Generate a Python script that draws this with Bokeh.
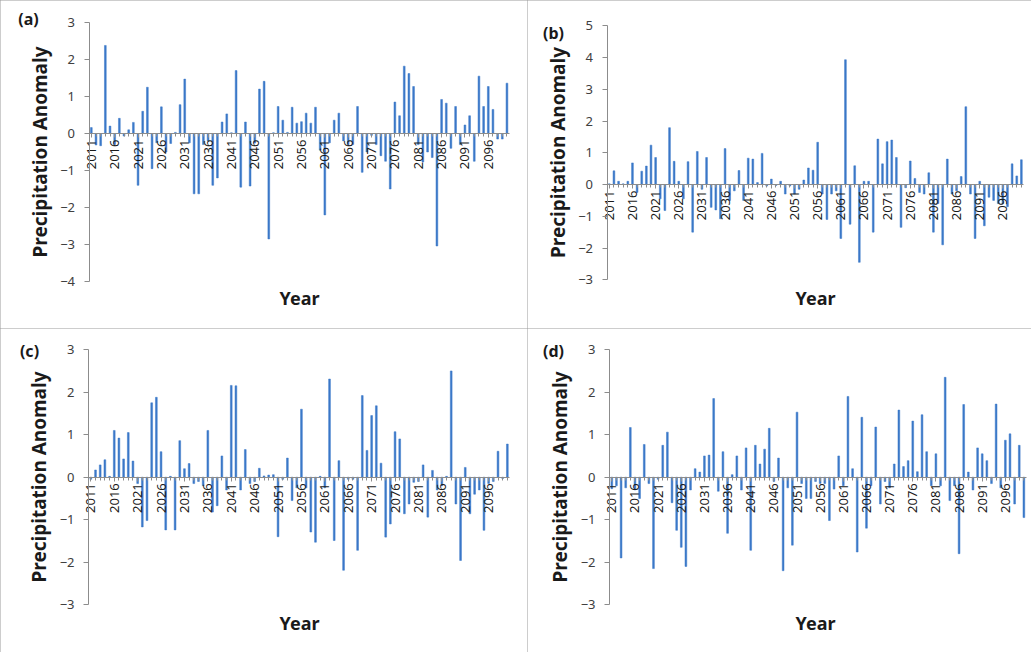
import math
from bokeh.plotting import figure
from bokeh.models import Range1d, FixedTicker, Label
from bokeh.layouts import row, column
from bokeh.embed import file_html
from bokeh.resources import INLINE

years = list(range(2011, 2101))
tick_years = list(range(2011, 2101, 5))

anom_a = [0.16, -0.31, -0.33, 2.38, 0.2, -0.3, 0.41, -0.07, 0.1, 0.3,
          -1.4, 0.6, 1.25, -0.95, -0.25, 0.72, -0.5, -0.27, 0.03, 0.78,
          1.47, -0.25, -1.63, -1.63, -0.3, -0.2, -1.4, -1.2, 0.31, 0.53,
          0.02, 1.7, -1.45, 0.31, -1.42, -0.26, 1.2, 1.41, -2.85, 0.02,
          0.73, 0.36, 0.03, 0.71, 0.28, 0.32, 0.55, 0.28, 0.71, -0.45,
          -2.2, -0.25, 0.36, 0.55, -0.2, -0.3, -0.3, 0.73, -1.05, -0.5,
          -0.05, -0.3, -0.6, -0.75, -1.5, 0.85, 0.48, 1.82, 1.62, 1.27,
          -0.3, -0.77, -0.5, -0.65, -3.04, 0.92, 0.82, -0.4, 0.73, -0.3,
          0.23, 0.48, -0.75, 1.55, 0.73, 1.27, 0.65, -0.15, -0.15, 1.36]

anom_b = [0.02, 0.43, 0.1, 0.02, 0.1, 0.68, -0.25, 0.42, 0.58, 1.24,
          0.85, -0.45, -0.82, 1.79, 0.73, 0.1, -0.45, 0.72, -1.5, 1.04,
          -0.15, 0.85, -0.72, -0.8, -1.08, 1.13, -0.5, -0.2, 0.44, -0.5,
          0.83, 0.8, 0.06, 0.98, -0.05, 0.17, -0.03, 0.1, -0.3, -0.05,
          -0.3, -0.15, 0.14, 0.52, 0.45, 1.33, -0.3, -1.1, -0.3, -0.2,
          -1.7, 3.93, -1.25, 0.59, -2.45, 0.1, 0.1, -1.5, 1.43, 0.65,
          1.35, 1.4, 0.85, -1.35, -0.1, 0.74, 0.19, -0.25, -0.3, 0.37,
          -1.5, -0.6, -1.9, 0.8, -0.3, -0.2, 0.25, 2.45, -0.3, -1.7,
          0.1, -1.3, -0.4, -0.5, -0.6, -0.6, -0.7, 0.65, 0.27, 0.78]

anom_c = [-0.05, 0.17, 0.29, 0.41, 0.02, 1.1, 0.92, 0.43, 1.05, 0.38,
          -0.15, -1.17, -1.02, 1.75, 1.88, 0.6, -1.24, 0.02, -1.24, 0.86,
          0.2, 0.32, -0.15, -0.1, -0.2, 1.1, -0.82, -0.67, 0.5, -0.3,
          2.16, 2.15, -0.3, 0.65, -0.15, -0.1, 0.21, 0.03, 0.05, 0.06,
          -1.4, -0.05, 0.45, -0.55, -0.25, 1.6, -0.25, -1.29, -1.53, 0.02,
          -0.25, 2.31, -1.49, 0.39, -2.19, -0.05, -0.05, -1.72, 1.92, 0.63,
          1.45, 1.68, 0.33, -1.41, -1.1, 1.07, 0.9, -0.86, -0.63, -0.12,
          -0.1, 0.29, -0.94, 0.16, -0.3, -0.2, 0.02, 2.5, -0.63, -1.96,
          0.23, -0.86, -0.4, -0.3, -1.25, -0.15, -0.1, 0.61, -0.03, 0.78]

anom_d = [-0.27, -0.2, -1.9, -0.25, 1.17, -0.3, -0.5, 0.77, -0.15, -2.15,
          -0.05, 0.75, 1.06, -0.6, -1.25, -1.65, -2.1, -0.3, 0.2, 0.12,
          0.5, 0.52, 1.85, -0.33, 0.6, -1.32, 0.06, 0.5, -0.3, 0.69,
          -1.72, 0.75, 0.31, 0.66, 1.15, -0.1, 0.45, -2.2, -0.25, -1.6,
          1.53, -0.15, -0.5, -0.5, -0.1, -0.15, -0.15, -1.02, -0.28, 0.5,
          -0.2, 1.9, 0.2, -1.76, 1.41, -1.2, -0.2, 1.18, -0.63, -0.1,
          -0.25, 0.31, 1.58, 0.25, 0.39, 1.32, 0.13, 1.47, 0.6, -0.2,
          0.55, -0.2, 2.35, -0.55, -0.2, -1.8, 1.71, 0.12, -0.3, 0.69,
          0.55, 0.39, -0.15, 1.72, -0.25, 0.87, 1.02, -0.63, 0.75, -0.95]

panel_tags = ["(a)", "(b)", "(c)", "(d)"]
y_limits = [(-4, 3), (-3, 5), (-3, 3), (-3, 3)]
x_title = "Year"
y_title = "Precipitation Anomaly"

BAR = "#3b78c8"
AXIS = "#8c8c8c"
FONT = "Noto Sans"
X0, X1 = 2010.5, 2100.5


def make_panel(vals, tag, ylim, geom):
    # geom: canvas size, pixel position of the axes origin and pixel scales
    W, H, ox, oy, sx, sy, tag_xy, title_xy = geom
    xr = Range1d(X0 - ox / sx, X0 + (W - ox) / sx)
    yr = Range1d(-(H - oy) / sy, oy / sy)
    p = figure(width=W, height=H, output_backend="svg", toolbar_location=None,
               x_range=xr, y_range=yr, min_border=0)
    p.vbar(x=years, top=vals, width=0.38, fill_color=BAR, line_color=BAR,
           line_width=0.5)
    p.xgrid.visible = False
    p.ygrid.visible = False
    p.outline_line_color = None
    p.background_fill_color = "white"
    p.border_fill_color = "white"

    xa = p.xaxis[0]
    xa.fixed_location = 0
    xa.bounds = (X0, X1)
    xa.ticker = FixedTicker(ticks=tick_years, minor_ticks=years)
    xa.major_label_orientation = math.pi / 2
    xa.axis_line_color = AXIS
    xa.major_tick_line_color = AXIS
    xa.minor_tick_line_color = AXIS
    xa.major_tick_out = 4
    xa.major_tick_in = 0
    xa.minor_tick_out = 3
    xa.minor_tick_in = 0
    xa.major_label_standoff = 2
    xa.major_label_text_font = FONT
    xa.major_label_text_font_size = "13px"
    xa.major_label_text_color = "#1a1a1a"

    ya = p.yaxis[0]
    ya.fixed_location = X0
    ya.bounds = ylim
    ya.ticker = FixedTicker(ticks=list(range(ylim[0], ylim[1] + 1)))
    ya.axis_line_color = AXIS
    ya.major_tick_line_color = AXIS
    ya.minor_tick_line_color = None
    ya.major_tick_out = 5
    ya.major_tick_in = 0
    ya.major_label_text_font = FONT
    ya.major_label_text_font_size = "13px"
    ya.major_label_text_color = "#404040"
    ya.major_label_standoff = 9
    ya.axis_label = y_title
    ya.axis_label_text_font = FONT
    ya.axis_label_text_font_style = "bold"
    ya.axis_label_text_font_size = "19px"
    ya.axis_label_text_color = "#1a1a1a"
    ya.axis_label_standoff = 5

    p.add_layout(Label(x=tag_xy[0], y=H - tag_xy[1], x_units="screen",
                       y_units="screen", text=tag, text_font=FONT,
                       text_font_style="bold", text_font_size="16px",
                       text_color="#1a1a1a", text_align="center",
                       text_baseline="middle"))
    p.add_layout(Label(x=title_xy[0], y=H - title_xy[1], x_units="screen",
                       y_units="screen", text=x_title, text_font=FONT,
                       text_font_style="bold", text_font_size="18px",
                       text_color="#1a1a1a", text_align="center",
                       text_baseline="middle"))
    p.styles = {"outline": "1px solid #9a9a9a", "outline-offset": "-1px"}
    return p


geoms = [
    (527, 328, 88.5, 133.0, 4.67, 37.0, (28, 18), (299, 297)),
    (504, 328, 79.5, 184.0, 4.63, 31.75, (26, 32), (288, 297)),
    (527, 324, 88.0, 148.7, 4.68, 42.5, (29, 22), (299, 294)),
    (504, 324, 82.0, 148.7, 4.63, 42.5, (26, 22), (288, 294)),
]

pa = make_panel(anom_a, panel_tags[0], y_limits[0], geoms[0])
pb = make_panel(anom_b, panel_tags[1], y_limits[1], geoms[1])
pc = make_panel(anom_c, panel_tags[2], y_limits[2], geoms[2])
pd = make_panel(anom_d, panel_tags[3], y_limits[3], geoms[3])

layout = column(row(pa, pb), row(pc, pd))

open("out.html", "w").write(file_html(layout, INLINE))
